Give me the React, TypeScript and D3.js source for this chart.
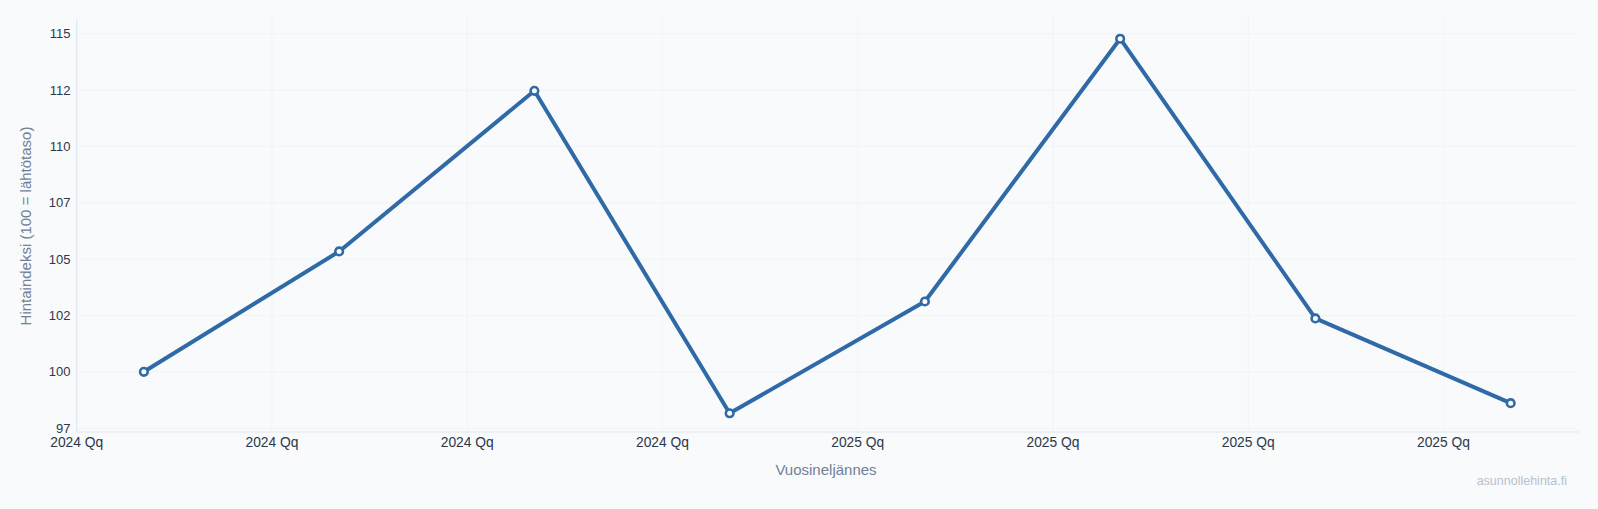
import React, { useEffect } from "react";
import * as d3 from "d3";

const quarters = ["2024 Q1", "2024 Q2", "2024 Q3", "2024 Q4", "2025 Q1", "2025 Q2", "2025 Q3", "2025 Q4"];
const indexValues = [100.0, 105.34, 112.47, 98.16, 103.12, 114.78, 102.37, 98.61];
const yTickValues = [97.5, 100, 102.5, 105, 107.5, 110, 112.5, 115];
const yTickLabels = ["97", "100", "102", "105", "107", "110", "112", "115"];
const xTickLabels = ["2024 Qq", "2024 Qq", "2024 Qq", "2024 Qq", "2025 Qq", "2025 Qq", "2025 Qq", "2025 Qq"];
const xTickOffsets = [-0.344, 0.656, 1.656, 2.656, 3.656, 4.656, 5.656, 6.656];

const W = 1598;
const H = 509;
const M = { left: 76.7, right: 1579, top: 20, bottom: 432 };

export default function App() {
  useEffect(() => {
    document.body.style.margin = "0";
    document.body.style.background = "#f8fafc";
  }, []);

  const [mn, mx] = d3.extent(indexValues) as [number, number];
  const pad = (mx - mn) * 0.05;
  const y = d3.scaleLinear().domain([mn - pad, mx + pad]).range([M.bottom, M.top]);
  const x = d3.scaleLinear().domain([-0.344, 7.35]).range([M.left, M.right]);

  const line = d3
    .line<number>()
    .x((_, i) => x(i))
    .y((d) => y(d));

  const font = "'Liberation Sans', Arial, Helvetica, sans-serif";

  return (
    <svg width={W} height={H} style={{ display: "block", background: "#f8fafc" }} fontFamily={font}>
      <rect x={0} y={0} width={W} height={H} fill="#f8fafc" />
      {/* grid */}
      {yTickValues.map((v, i) => (
        <line key={"gy" + i} x1={M.left} x2={1576} y1={y(v)} y2={y(v)} stroke="#f1f4f8" strokeWidth={1} />
      ))}
      {xTickOffsets.map((v, i) => (
        <line key={"gx" + i} x1={x(v)} x2={x(v)} y1={15} y2={M.bottom} stroke="#f1f4f8" strokeWidth={1} />
      ))}
      {/* axes */}
      <line x1={M.left} x2={M.left} y1={M.top} y2={M.bottom} stroke="#e2e8f0" strokeWidth={1.2} />
      <line x1={M.left} x2={M.right} y1={M.bottom} y2={M.bottom} stroke="#e2e8f0" strokeWidth={1.2} />
      {/* y ticks */}
      {yTickValues.map((v, i) => (
        <text
          key={"yt" + i}
          x={70.5}
          y={y(v)}
          textAnchor="end"
          dominantBaseline="central"
          fontSize={13}
          fill="#2d3748"
        >
          {yTickLabels[i]}
        </text>
      ))}
      {/* x ticks */}
      {xTickOffsets.map((v, i) => (
        <text
          key={"xt" + i}
          x={x(v)}
          y={442}
          textAnchor="middle"
          dominantBaseline="central"
          fontSize={13.8}
          fill="#2d3748"
        >
          {xTickLabels[i]}
        </text>
      ))}
      {/* axis titles */}
      <text
        transform={`translate(25.7,${(M.top + M.bottom) / 2}) rotate(-90)`}
        textAnchor="middle"
        dominantBaseline="central"
        fontSize={15}
        fill="#718096"
      >
        Hintaindeksi (100 = lähtötaso)
      </text>
      <text x={826} y={469} textAnchor="middle" dominantBaseline="central" fontSize={15} fill="#718096">
        Vuosineljännes
      </text>
      {/* line */}
      <path d={line(indexValues) || ""} fill="none" stroke="#2f6aa7" strokeWidth={4} strokeLinejoin="round" />
      {indexValues.map((v, i) => (
        <circle key={quarters[i]} cx={x(i)} cy={y(v)} r={3.8} fill="#ffffff" stroke="#2f6aa7" strokeWidth={2.6} />
      ))}
      <text x={1567} y={481} textAnchor="end" dominantBaseline="central" fontSize={12.5} fill="#b9c1cc">
        asunnollehinta.fi
      </text>
    </svg>
  );
}
